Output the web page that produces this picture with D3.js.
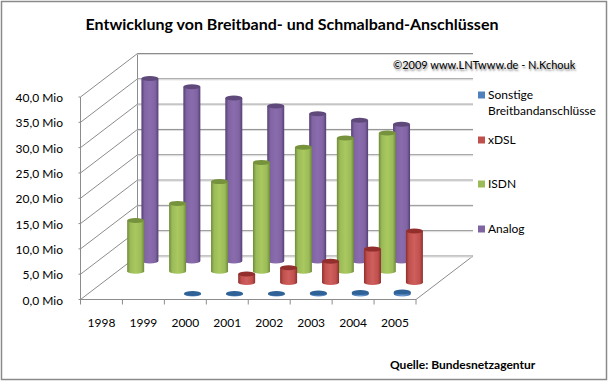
<!DOCTYPE html>
<html>
<head>
<meta charset="utf-8">
<script src="https://cdn.jsdelivr.net/npm/d3@7"></script>
<style>
html, body { margin: 0; padding: 0; background: #fff; }
text { font-family: Lato, sans-serif; fill: #000; }
</style>
</head>
<body>
<div id="chart"></div>
<script>
const years = ["1998", "1999", "2000", "2001", "2002", "2003", "2004", "2005"];
const valueTicks = [0, 5, 10, 15, 20, 25, 30, 35, 40];
// Mio, null = no bar in the picture
const sonstige = [null, null, 0.1, 0.1, 0.1, 0.2, 0.3, 0.4];
const xdsl = [null, null, null, 1.7, 2.9, 4.2, 6.6, 10.2];
const isdn = [10.0, 13.4, 17.7, 21.5, 24.5, 26.3, 27.3, null];
const analog = [36.05, 34.4, 32.2, 30.6, 29.1, 27.8, 27.0, null];
const seriesNames = ["Sonstige", "xDSL", "ISDN", "Analog"];
const seriesValues = [sonstige, xdsl, isdn, analog];
const seriesDepthX = [0.127, 0.34, 0.6, 0.85];
const seriesDepthY = [0.127, 0.39, 0.65, 0.885];
const seriesLight = ["#4f81bd", "#c0504d", "#9bbb59", "#8064a2"];
const seriesMid = ["#6f9bd0", "#cf5f5c", "#a9c85f", "#8a6cae"];
const seriesDark = ["#2c5a8c", "#8c2f2d", "#6f8a3a", "#553f75"];
const seriesTop = ["#2f6296", "#922f2d", "#76923c", "#5f497a"];

const width = 608, height = 381;
const svg = d3.select("#chart").append("svg")
    .attr("width", width)
    .attr("height", height);

let x = d3.scaleBand().domain(years).range([80.5, 416]);
let y = d3.scaleLinear().domain([0, 40]).range([299.5, 97]);
// depth goes back and up
let depthX = d3.scaleLinear().domain([0, 1]).range([0, 57]);
let depthY = d3.scaleLinear().domain([0, 1]).range([0, -43.5]);

// frame
svg.append("rect")
    .attr("x", 1.5).attr("y", 1.5)
    .attr("width", width - 3).attr("height", height - 3)
    .attr("fill", "#fff")
    .attr("stroke", "#8a8a8a")
    .attr("stroke-width", 1.5);

svg.append("text")
    .attr("x", 292).attr("y", 30)
    .attr("text-anchor", "middle")
    .attr("font-size", 16)
    .attr("font-weight", "bold")
    .text("Entwicklung von Breitband- und Schmalband-Anschlüssen");

// walls
let wall = svg.append("g").attr("fill", "none").attr("stroke", "#8c8c8c").attr("stroke-width", 1);
valueTicks.forEach(t => {
    wall.append("line")
        .attr("x1", x.range()[0]).attr("y1", y(t))
        .attr("x2", x.range()[0] + depthX(1)).attr("y2", y(t) + depthY(1));
    wall.append("line")
        .attr("x1", x.range()[0] + depthX(1)).attr("y1", y(t) + depthY(1))
        .attr("x2", x.range()[1] + depthX(1)).attr("y2", y(t) + depthY(1));
    // small shadow under the back lines
    svg.append("line")
        .attr("x1", x.range()[0] + depthX(1)).attr("y1", y(t) + depthY(1) + 1)
        .attr("x2", x.range()[1] + depthX(1)).attr("y2", y(t) + depthY(1) + 1)
        .attr("stroke", "#dcdcdc");
    wall.append("line")
        .attr("x1", x.range()[0] - 2).attr("y1", y(t))
        .attr("x2", x.range()[0]).attr("y2", y(t));
});
wall.append("line")
    .attr("x1", x.range()[0]).attr("y1", y(0))
    .attr("x2", x.range()[0]).attr("y2", y(40));
wall.append("line")
    .attr("x1", x.range()[0] + depthX(1)).attr("y1", y(0) + depthY(1))
    .attr("x2", x.range()[0] + depthX(1)).attr("y2", y(40) + depthY(1));
wall.append("line")
    .attr("x1", x.range()[0]).attr("y1", y(0))
    .attr("x2", x.range()[1]).attr("y2", y(0));
wall.append("line")
    .attr("x1", x.range()[1]).attr("y1", y(0))
    .attr("x2", x.range()[1] + depthX(1)).attr("y2", y(0) + depthY(1));

// category ticks and labels
let xTicks = x.domain().map(d => x(d)).concat([x.range()[1]]);
xTicks.forEach(px => {
    wall.append("line")
        .attr("x1", px).attr("y1", y(0))
        .attr("x2", px).attr("y2", y(0) + 5);
});
svg.selectAll(".year").data(years).join("text")
    .attr("class", "year")
    .attr("x", d => x(d) + x.bandwidth() / 2)
    .attr("y", 327)
    .attr("text-anchor", "middle")
    .attr("font-size", 12)
    .text(d => d);

svg.selectAll(".val").data(valueTicks).join("text")
    .attr("class", "val")
    .attr("x", 63).attr("y", d => y(d) + 5)
    .attr("text-anchor", "end")
    .attr("font-size", 12)
    .text(d => d3.format(".1f")(d).replace(".", ",") + " Mio");

// cylinder gradients
let defs = svg.append("defs");
seriesNames.forEach((name, i) => {
    let g = defs.append("linearGradient").attr("id", "cyl" + i);
    g.append("stop").attr("offset", "0%").attr("stop-color", seriesDark[i]);
    g.append("stop").attr("offset", "18%").attr("stop-color", seriesLight[i]);
    g.append("stop").attr("offset", "50%").attr("stop-color", seriesMid[i]);
    g.append("stop").attr("offset", "82%").attr("stop-color", seriesLight[i]);
    g.append("stop").attr("offset", "100%").attr("stop-color", seriesDark[i]);
});

// bars, back series first
const barW = 17, ry = 2.5;
[3, 2, 1, 0].forEach(s => {
    let dx = depthX(seriesDepthX[s]), dy = depthY(seriesDepthY[s]);
    let rows = years.map((yr, j) => ({ year: yr, value: seriesValues[s][j] })).filter(d => d.value !== null);
    let bars = svg.append("g").selectAll("g").data(rows).join("g");
    bars.append("path")
        .attr("fill", `url(#cyl${s})`)
        .attr("d", d => {
            let cx = x(d.year) + x.bandwidth() / 2 + dx;
            let base = y(0) + dy, top = y(d.value) + dy;
            return `M${cx - barW / 2},${top}V${base}A${barW / 2},${ry} 0 0 0 ${cx + barW / 2},${base}V${top}Z`;
        });
    bars.append("ellipse")
        .attr("cx", d => x(d.year) + x.bandwidth() / 2 + dx)
        .attr("cy", d => y(d.value) + dy)
        .attr("rx", barW / 2).attr("ry", ry)
        .attr("fill", seriesTop[s]);
});

// legend
const legendRows = [
    { name: 0, y: 95, lines: ["Sonstige", "Breitbandanschlüsse"] },
    { name: 1, y: 140, lines: ["xDSL"] },
    { name: 2, y: 184, lines: ["ISDN"] },
    { name: 3, y: 229, lines: ["Analog"] }
];
legendRows.forEach(r => {
    svg.append("rect")
        .attr("x", 478).attr("y", r.y - 3.5)
        .attr("width", 7).attr("height", 7)
        .attr("fill", seriesLight[r.name]);
    r.lines.forEach((t, k) => {
        svg.append("text")
            .attr("x", 488).attr("y", r.y + 4 + k * 16)
            .attr("font-size", 12)
            .text(t);
    });
});

svg.append("text")
    .attr("x", 393).attr("y", 69)
    .attr("font-size", 11)
    .style("text-shadow", "1px 2px 2px rgba(0,0,0,.45)")
    .text("©2009 www.LNTwww.de - N.Kchouk");

svg.append("text")
    .attr("x", 390).attr("y", 369)
    .attr("font-size", 12)
    .attr("font-weight", "bold")
    .text("Quelle: Bundesnetzagentur");
</script>
</body>
</html>
